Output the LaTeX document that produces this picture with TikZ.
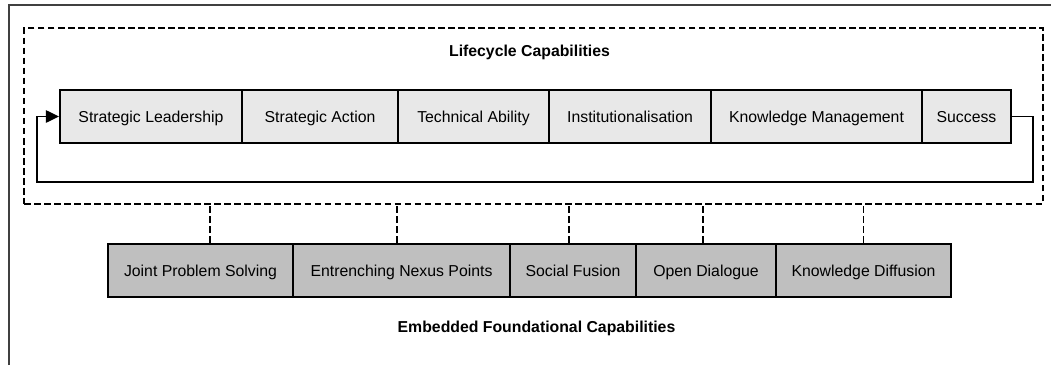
\documentclass[tikz,border=0pt]{standalone}
\usepackage{fontspec}
\setmainfont{Liberation Sans}
\usetikzlibrary{arrows.meta}
\begin{document}
\begin{tikzpicture}[x=0.02cm, y=-0.02cm, font=\fontsize{9}{11}\selectfont,
        stage/.style={rectangle, draw, line width=1.1pt, fill=black!9, minimum height=1.06cm, inner sep=0pt, text height=1.6ex, text depth=0.35ex},
        base/.style={stage, fill=black!25},
        dashline/.style={line width=1pt, dash pattern=on 3.8pt off 1.9pt},
        feedback/.style={line width=1.1pt, -{Triangle[length=7.5pt, width=7pt]}}]
        \useasboundingbox (0,0) rectangle (1051,365);

        \draw[black!75, line width=0.7pt] (9,365) -- (9,5) -- (1051,5);

        \node[dashline, draw, minimum width=20.38cm, minimum height=3.52cm] (life) at (533.5,116) {};
        \node[font=\fontsize{9}{11}\selectfont\bfseries] (lctitle) at (529.5,52) {Lifecycle Capabilities};

        \node[stage, minimum width=3.64cm] (lead) at (151,116.5) {Strategic Leadership};
        \node[stage, minimum width=3.12cm] (act) at (320,116.5) {Strategic Action};
        \node[stage, minimum width=3.02cm] (tech) at (473.5,116.5) {Technical Ability};
        \node[stage, minimum width=3.24cm] (inst) at (630,116.5) {Institutionalisation};
        \node[stage, minimum width=4.22cm] (km) at (816.5,116.5) {Knowledge Management};
        \node[stage, minimum width=1.78cm] (succ) at (966.5,116.5) {Success};

        \coordinate (turn) at (1033,182);
        \coordinate (back) at (37,116.5);
        \draw[feedback] (succ.east) -| (turn) -| (back) -- (lead.west);

        \node[base, minimum width=3.70cm] (jps) at (200.5,270.5) {Joint Problem Solving};
        \node[base, minimum width=4.34cm] (enp) at (401.5,270.5) {Entrenching Nexus Points};
        \node[base, minimum width=2.52cm] (sf) at (573,270.5) {Social Fusion};
        \node[base, minimum width=2.80cm] (od) at (706,270.5) {Open Dialogue};
        \node[base, minimum width=3.50cm] (kd) at (863.5,270.5) {Knowledge Diffusion};

        \draw[dashline] ([xshift=0.19cm]jps.north) -- ([xshift=0.19cm]jps.north |- life.south);
        \draw[dashline] ([xshift=-0.09cm]enp.north) -- ([xshift=-0.09cm]enp.north |- life.south);
        \draw[dashline] ([xshift=-0.08cm]sf.north) -- ([xshift=-0.08cm]sf.north |- life.south);
        \draw[dashline] ([xshift=-0.06cm]od.north) -- ([xshift=-0.06cm]od.north |- life.south);
        \draw[dashline] (kd.north) -- (kd.north |- life.south);

        \node[font=\fontsize{9}{11}\selectfont\bfseries] (eftitle) at (536.5,328) {Embedded Foundational Capabilities};
    \end{tikzpicture}
\end{document}
